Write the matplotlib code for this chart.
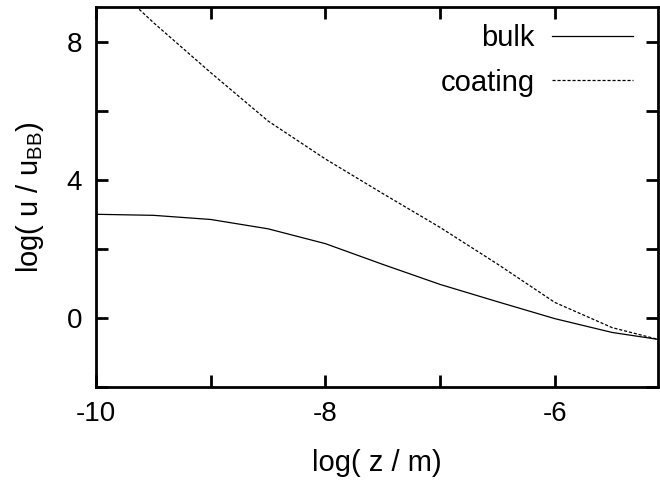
import numpy as np
import matplotlib
matplotlib.use("Agg")
import matplotlib.pyplot as plt
from matplotlib.ticker import MultipleLocator

plt.rcParams['font.family'] = ['Liberation Sans', 'DejaVu Sans']
plt.rcParams['font.size'] = 20
plt.rcParams['axes.unicode_minus'] = False

# data
log_z = [-10.0, -9.5, -9.0, -8.5, -8.0, -7.5, -7.0, -6.5, -6.0, -5.5, -5.1]
bulk = [3.0, 2.97, 2.85, 2.58, 2.15, 1.55, 0.97, 0.47, -0.02, -0.42, -0.62]
coating = [10.1, 8.55, 7.1, 5.7, 4.6, 3.6, 2.62, 1.56, 0.45, -0.28, -0.62]

fig = plt.figure(figsize=(6.6, 4.82), dpi=100)
ax = fig.add_axes([0.1455, 0.197, 0.8515, 0.7885])

ax.plot(log_z, bulk, color='black', lw=0.9, label='bulk')
ax.plot(log_z, coating, color='black', lw=0.9, dashes=(2.5, 1.5), label='coating')

ax.set_xlim(-10, -5.1)
ax.set_ylim(-2, 9)

ax.xaxis.set_major_locator(MultipleLocator(2))
ax.xaxis.set_minor_locator(MultipleLocator(1))
ax.yaxis.set_major_locator(MultipleLocator(4))
ax.yaxis.set_minor_locator(MultipleLocator(2))
ax.tick_params(which='both', direction='in', top=True, right=True,
               length=8.5, width=2, pad=10)

for s in ax.spines.values():
    s.set_linewidth(2)

ax.set_xlabel('log( z / m)', fontsize=21, labelpad=16)
ax.set_ylabel(r'log( u / u$_{\mathregular{BB}}$)', fontsize=21, labelpad=15)

ax.legend(loc='upper right', bbox_to_anchor=(0.986, 1.0), frameon=False,
          markerfirst=False, handlelength=2.75, handletextpad=0.6,
          labelspacing=0.55, borderaxespad=0.45, borderpad=0.15, fontsize=21)

fig.savefig('out.png', dpi=100)
